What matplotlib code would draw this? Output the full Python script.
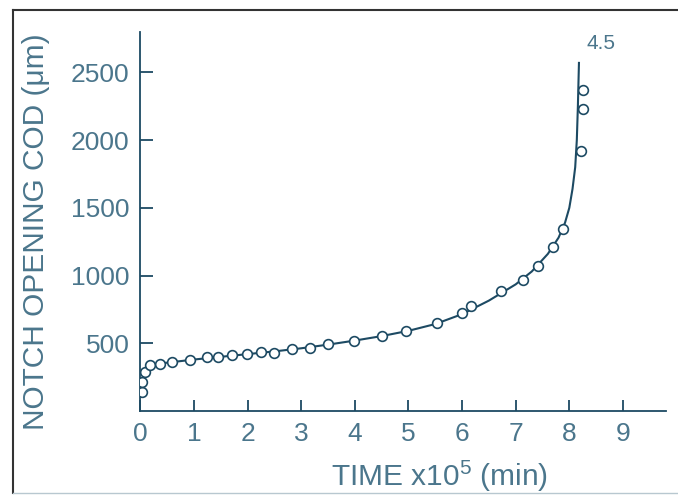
import matplotlib
matplotlib.use("Agg")
import matplotlib.pyplot as plt
from matplotlib.lines import Line2D

plt.rcParams["font.family"] = ["Liberation Sans", "DejaVu Sans"]
plt.rcParams["mathtext.fontset"] = "custom"
plt.rcParams["mathtext.rm"] = "Liberation Sans"
plt.rcParams["mathtext.it"] = "Liberation Sans"

# Measured notch opening (COD) versus time
time = [0.02, 0.02, 0.08, 0.18, 0.36, 0.58, 0.92, 1.25, 1.45, 1.70, 1.98, 2.25,
        2.50, 2.83, 3.17, 3.49, 3.98, 4.51, 4.95, 5.53, 5.99, 6.16, 6.73, 7.13,
        7.42, 7.70, 7.88, 8.22, 8.25, 8.26]
cod = [143, 217, 290, 340, 347, 362, 377, 397, 397, 412, 419, 436,
       431, 458, 468, 493, 519, 554, 591, 648, 722, 778, 889, 968,
       1072, 1210, 1343, 1916, 2232, 2372]

# Smooth trend curve through the measurements
fit_time = [0.02, 0.05, 0.10, 0.20, 0.40, 0.70, 1.0, 1.5, 2.0, 2.5, 3.0, 3.5,
            4.0, 4.5, 5.0, 5.5, 6.0, 6.5, 7.0, 7.3, 7.6, 7.8, 7.92, 8.0,
            8.06, 8.11, 8.14, 8.16, 8.18]
fit_cod = [140, 250, 305, 335, 352, 366, 380, 400, 420, 440, 463, 490,
           520, 553, 592, 642, 715, 815, 935, 1030, 1160, 1280, 1390, 1500,
           1640, 1800, 2000, 2250, 2570]

x_ticks = [0, 1, 2, 3, 4, 5, 6, 7, 8, 9]
y_ticks = [500, 1000, 1500, 2000, 2500]
curve_label = "4.5"

ink = "#1d4a63"
text_col = "#4b768c"

fig = plt.figure(figsize=(6.78, 4.96), dpi=100)
ax = fig.add_axes([0.2072, 0.1714, 0.7748, 0.7646])

ax.plot(fit_time, fit_cod, color=ink, lw=1.5, zorder=2)
ax.plot(time, cod, linestyle="none", marker="o", markersize=7,
        markerfacecolor="white", markeredgecolor=ink, markeredgewidth=1.2,
        zorder=3)

ax.text(8.6, 2712, curve_label, fontsize=15, color=text_col,
        ha="center", va="center")

ax.set_xlim(0, 9.8)
ax.set_ylim(0, 2800)
ax.set_xticks(x_ticks)
ax.set_yticks(y_ticks)

for side in ("top", "right"):
    ax.spines[side].set_visible(False)
for side in ("left", "bottom"):
    ax.spines[side].set_color(ink)
    ax.spines[side].set_linewidth(1.3)

ax.tick_params(axis="x", direction="in", length=8, width=1.3, color=ink,
               pad=8, labelsize=19, labelcolor=text_col)
ax.tick_params(axis="y", direction="in", length=9, width=1.3, color=ink,
               pad=8, labelsize=19, labelcolor=text_col)

fig.text(0.053, 0.532, "NOTCH OPENING COD (μm)", rotation=90,
         ha="center", va="center", fontsize=21.5, color=text_col)
fig.text(0.649, 0.040, "TIME x10$^{5}$ (min)", ha="center", va="center",
         fontsize=21.5, color=text_col)

# Frame around the figure panel
fig.add_artist(Line2D([13 / 678, 13 / 678], [1 - 10 / 496, 1 - 493 / 496],
                      transform=fig.transFigure, color="#333333", lw=1.5))
fig.add_artist(Line2D([13 / 678, 1.0], [1 - 10 / 496, 1 - 10 / 496],
                      transform=fig.transFigure, color="#333333", lw=1.5))
fig.add_artist(Line2D([13 / 678, 1.0], [1 - 493 / 496, 1 - 493 / 496],
                      transform=fig.transFigure, color="#b8c8d0", lw=1.0))

fig.savefig("out.png", dpi=100)
